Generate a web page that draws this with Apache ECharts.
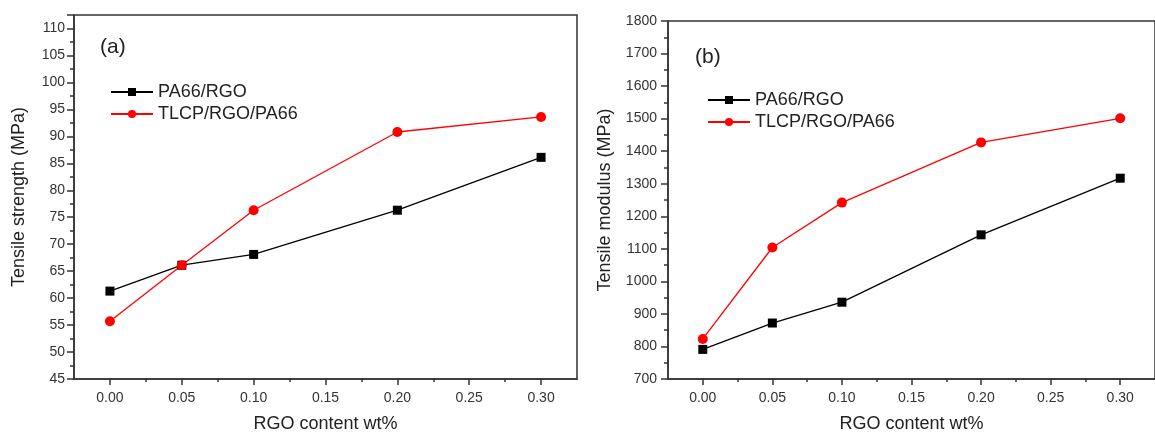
<!DOCTYPE html>
<html>
<head>
<meta charset="utf-8">
<script src="https://cdn.jsdelivr.net/npm/echarts@6/dist/echarts.min.js"></script>
<style>
  html, body { margin: 0; padding: 0; background: #fff; }
  #chart { width: 1155px; height: 438px; }
</style>
</head>
<body>
<div id="chart"></div>
<script>
// RGO 含量 (wt%)
const rgoContent = [0, 0.05, 0.10, 0.20, 0.30];

// (a) 拉伸强度 MPa
const strengthPA66 = [61.3, 66.1, 68.1, 76.3, 86.1];
const strengthTLCP = [55.7, 66.1, 76.3, 90.8, 93.6];

// (b) 拉伸模量 MPa
const modulusPA66 = [791, 872, 936, 1143, 1317];
const modulusTLCP = [823, 1104, 1242, 1427, 1501];

// 刻度
const xMajorTicks = [0, 0.05, 0.10, 0.15, 0.20, 0.25, 0.30];
const xMinorTicks = [0.025, 0.075, 0.125, 0.175, 0.225, 0.275];
const yStrengthMinor = [47.5, 52.5, 57.5, 62.5, 67.5, 72.5, 77.5, 82.5, 87.5, 92.5, 97.5, 102.5, 107.5];
const yModulusMinor = [750, 850, 950, 1050, 1150, 1250, 1350, 1450, 1550, 1650, 1750];

const names = ['PA66/RGO', 'TLCP/RGO/PA66'];
const FONT = 'Arial, "Liberation Sans", Helvetica, sans-serif';
const AXIS_COLOR = '#333';
const TEXT_COLOR = '#222';

function pairs(xs, ys) {
    return xs.map((x, i) => [x, ys[i]]);
}

// 主 x 轴
function xMain(gridIndex) {
    return {
        type: 'value', gridIndex, position: 'bottom',
        min: -0.025, max: 0.325,
        name: 'RGO content wt%', nameLocation: 'middle', nameGap: 36,
        nameTextStyle: { fontSize: 18, color: TEXT_COLOR, fontFamily: FONT },
        axisLine: { show: true, onZero: false, lineStyle: { color: AXIS_COLOR, width: 1.5 } },
        axisTick: { show: true, inside: false, length: 6, customValues: xMajorTicks,
            lineStyle: { color: AXIS_COLOR, width: 1.5 } },
        axisLabel: { customValues: xMajorTicks, margin: 12, fontSize: 14, color: '#333', fontFamily: FONT,
            formatter: v => v.toFixed(2) },
        splitLine: { show: false }
    };
}

// 次刻度 x 轴
function xMinor(gridIndex) {
    return {
        type: 'value', gridIndex, position: 'bottom',
        min: -0.025, max: 0.325,
        axisLine: { show: false, onZero: false },
        axisTick: { show: true, length: 3, customValues: xMinorTicks,
            lineStyle: { color: AXIS_COLOR, width: 1.5 } },
        axisLabel: { show: false },
        splitLine: { show: false }
    };
}

function yMain(gridIndex, name, min, max, interval, gap, margin) {
    return {
        type: 'value', gridIndex, position: 'left',
        min, max, interval,
        name, nameLocation: 'middle', nameGap: gap,
        nameTextStyle: { fontSize: 18, color: TEXT_COLOR, fontFamily: FONT },
        axisLine: { show: true, onZero: false, lineStyle: { color: AXIS_COLOR, width: 1.5 } },
        axisTick: { show: true, length: 7, lineStyle: { color: AXIS_COLOR, width: 1.5 } },
        axisLabel: { margin, fontSize: 14, color: '#333', fontFamily: FONT,
            formatter: v => (v % interval === 0 ? String(v) : '') },
        splitLine: { show: false }
    };
}

function yMinor(gridIndex, min, max, ticks) {
    return {
        type: 'value', gridIndex, position: 'left',
        min, max,
        axisLine: { show: false, onZero: false },
        axisTick: { show: true, length: 4, customValues: ticks,
            lineStyle: { color: AXIS_COLOR, width: 1.5 } },
        axisLabel: { show: false },
        splitLine: { show: false }
    };
}

function lineSeries(name, xIdx, yIdx, data, color, symbol, size) {
    return {
        name, type: 'line',
        xAxisIndex: xIdx, yAxisIndex: yIdx,
        data,
        symbol, symbolSize: size,
        showAllSymbol: true,
        lineStyle: { color, width: 1.3 },
        itemStyle: { color, borderWidth: 0 },
        clip: false
    };
}

function legendAt(left, top) {
    return {
        data: names,
        orient: 'vertical',
        left, top,
        padding: 0,
        itemGap: 4,
        itemWidth: 42,
        itemHeight: 10,
        selectedMode: false,
        textStyle: { fontSize: 18, lineHeight: 18, color: TEXT_COLOR, fontFamily: FONT }
    };
}

const chart = echarts.init(document.getElementById('chart'));

const option = {
    animation: false,
    backgroundColor: '#fff',
    title: [
        { text: '(a)', left: 100, top: 37, padding: 0,
            textStyle: { fontSize: 21, fontWeight: 'normal', color: TEXT_COLOR, fontFamily: FONT } },
        { text: '(b)', left: 695, top: 47, padding: 0,
            textStyle: { fontSize: 21, fontWeight: 'normal', color: TEXT_COLOR, fontFamily: FONT } }
    ],
    legend: [legendAt(110, 83), legendAt(707, 91)],
    grid: [
        { left: 74, top: 15, right: 578, bottom: 56, show: true, borderColor: AXIS_COLOR, borderWidth: 1.5 },
        { left: 668, top: 21, right: -9, bottom: 55, show: true, borderColor: AXIS_COLOR, borderWidth: 1.5 }
    ],
    xAxis: [xMain(0), xMinor(0), xMain(1), xMinor(1)],
    yAxis: [
        yMain(0, 'Tensile strength (MPa)', 45, 112.5, 5, 46, 9),
        yMinor(0, 45, 112.5, yStrengthMinor),
        yMain(1, 'Tensile modulus (MPa)', 700, 1800, 100, 54, 11),
        yMinor(1, 700, 1800, yModulusMinor)
    ],
    series: [
        lineSeries(names[0], 0, 0, pairs(rgoContent, strengthPA66), '#000', 'rect', 9),
        lineSeries(names[1], 0, 0, pairs(rgoContent, strengthTLCP), '#ff0000', 'circle', 10),
        lineSeries(names[0], 2, 2, pairs(rgoContent, modulusPA66), '#000', 'rect', 9),
        lineSeries(names[1], 2, 2, pairs(rgoContent, modulusTLCP), '#ff0000', 'circle', 10)
    ]
};

chart.setOption(option);
</script>
</body>
</html>
